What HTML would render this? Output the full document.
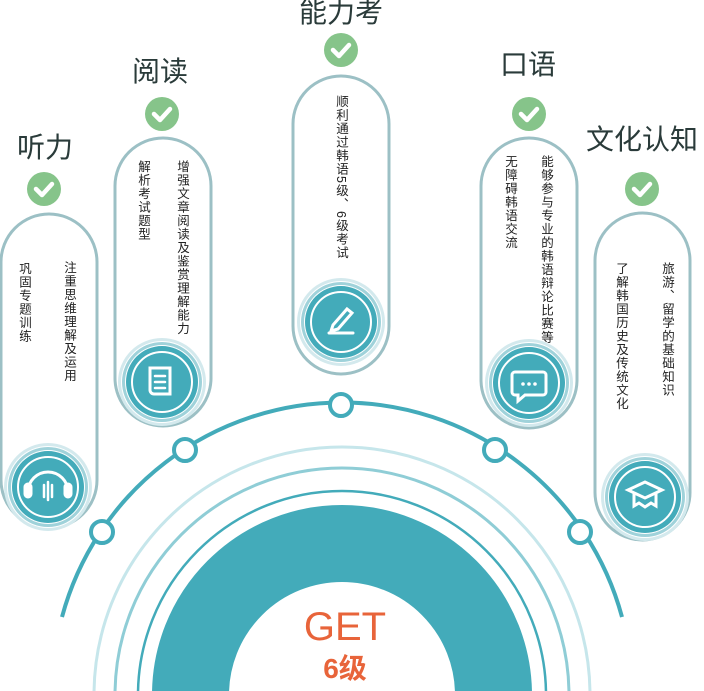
<!DOCTYPE html>
<html><head><meta charset="utf-8"><style>
html,body{margin:0;width:704px;height:691px;overflow:hidden;background:#fff}
body{position:relative;font-family:"Liberation Sans","Noto Sans CJK SC",sans-serif}
.v{position:absolute;writing-mode:vertical-rl;font-size:12.5px;line-height:13px;letter-spacing:1px;color:#222;white-space:nowrap}
.t{position:absolute;font-size:28px;color:#2a3b3a;transform:translateX(-50%);white-space:nowrap;line-height:30px}
svg{position:absolute;left:0;top:0;overflow:hidden}
</style></head><body>
<svg width="704" height="691" viewBox="0 0 704 691">
<defs>
<g id="chk"><circle r="17" fill="#86c48a"/><path d="M-8,0 L-2,6 L8,-5" stroke="#fff" stroke-width="4.5" fill="none" stroke-linecap="round" stroke-linejoin="round"/></g>
<g id="ic"><circle r="44" fill="#d3e9ed"/><circle r="41" fill="#fff"/><circle r="40" fill="#9fd2da"/><circle r="37" fill="#fff"/><circle r="36" fill="#43abba"/><circle r="30" fill="none" stroke="#fff" stroke-width="2"/></g>
</defs>
<path d="M62,617 A290,290 0 0 1 622,617" fill="none" stroke="#43abba" stroke-width="4"/>
<circle cx="342" cy="695" r="248" fill="none" stroke="#c6e6eb" stroke-width="3"/>
<circle cx="342" cy="695" r="227" fill="none" stroke="#8fcdd6" stroke-width="3"/>
<circle cx="342" cy="695" r="204" fill="none" stroke="#43abba" stroke-width="2.5"/>
<circle cx="342" cy="695" r="151.5" fill="none" stroke="#43abba" stroke-width="77"/>
<g fill="#fff" stroke="#43abba" stroke-width="4">
<circle cx="341" cy="405" r="11"/><circle cx="185" cy="450" r="11"/><circle cx="495" cy="450" r="11"/><circle cx="102" cy="532" r="11"/><circle cx="580" cy="532" r="11"/>
</g>
<g fill="#fff" stroke="#9cc0c5" stroke-width="3">
<rect x="1" y="214" width="96" height="314" rx="48"/>
<rect x="115" y="138" width="96" height="288" rx="48"/>
<rect x="293" y="76" width="96" height="298" rx="48"/>
<rect x="481" y="138" width="96" height="290" rx="48"/>
<rect x="595" y="213" width="95" height="327" rx="47.5"/>
</g>
<use href="#chk" x="44" y="189"/><use href="#chk" x="162" y="114"/><use href="#chk" x="341" y="50"/><use href="#chk" x="529" y="114"/><use href="#chk" x="642" y="189"/>
<use href="#ic" x="48" y="487"/><use href="#ic" x="162" y="382"/><use href="#ic" x="341" y="322"/><use href="#ic" x="529" y="383"/><use href="#ic" x="645" y="497"/>
<g stroke="#fff" stroke-width="3" fill="none" stroke-linecap="round">
<path d="M28,492 a20,20 0 0 1 40,0"/><rect x="25" y="484" width="6" height="13" rx="3" fill="#fff"/><rect x="65" y="484" width="6" height="13" rx="3" fill="#fff"/>
<path d="M44,485v12M48,482v18M52,485v12" stroke-width="2.5"/>
<path d="M152,368 h18 v26 h-16 a4,4 0 0 1 -4,-4 v-22z"/><path d="M155,376h10M155,382h10M155,388h10" stroke-width="2.5"/>
<path d="M329,333 h24"/><path d="M333,325 l14,-16 l5,4 l-14,16 l-7,2z"/>
<path d="M515,372 h28 a3,3 0 0 1 3,3 v17 a3,3 0 0 1 -3,3 h-18 l-7,6 v-6 h-3 a3,3 0 0 1 -3,-3 v-17 a3,3 0 0 1 3,-3z"/>
<path d="M628,490 l17,-8 l17,8 l-17,8z"/><path d="M634,494 v12 l5,-3 l6,4 l6,-4 l5,3 v-12"/>
</g>
<g fill="#fff"><circle cx="523" cy="384" r="1.8"/><circle cx="529" cy="384" r="1.8"/><circle cx="535" cy="384" r="1.8"/></g>
<text x="345" y="640" text-anchor="middle" font-family="Liberation Sans,sans-serif" font-size="40" fill="#e8643a">GET</text>
<text x="345" y="678" text-anchor="middle" font-family="Liberation Sans,Noto Sans CJK SC,sans-serif" font-size="28" font-weight="bold" fill="#e8643a">6级</text>
</svg>
<div class="t" style="left:45px;top:133px">听力</div>
<div class="t" style="left:160px;top:57px">阅读</div>
<div class="t" style="left:341px;top:-2px">能力考</div>
<div class="t" style="left:528px;top:50px">口语</div>
<div class="t" style="left:642px;top:125px">文化认知</div>
<div class="v" style="left:17px;top:262px">巩固专题训练</div>
<div class="v" style="left:62px;top:261px">注重思维理解及运用</div>
<div class="v" style="left:136px;top:160px">解析考试题型</div>
<div class="v" style="left:175px;top:160px">增强文章阅读及鉴赏理解能力</div>
<div class="v" style="left:334px;top:95px">顺利通过韩语5级、6级考试</div>
<div class="v" style="left:503px;top:155px">无障碍韩语交流</div>
<div class="v" style="left:539px;top:155px">能够参与专业的韩语辩论比赛等</div>
<div class="v" style="left:614px;top:262px">了解韩国历史及传统文化</div>
<div class="v" style="left:660px;top:262px">旅游、留学的基础知识</div>
</body></html>
